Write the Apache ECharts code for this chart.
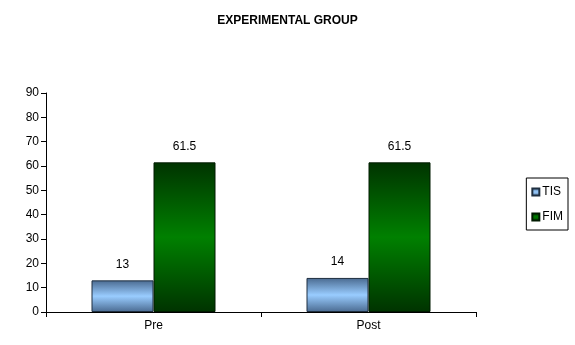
<!DOCTYPE html>
<html>
<head>
<meta charset="utf-8">
<script src="https://cdn.jsdelivr.net/npm/echarts@6/dist/echarts.min.js"></script>
<style>
html,body{margin:0;padding:0;background:#fff;}
#chart{width:575px;height:345px;}
</style>
</head>
<body>
<div id="chart"></div>
<script>
// Chart data
var categories = ['Pre', 'Post'];
var tisValues = [13, 14];
var fimValues = [61.5, 61.5];
var seriesNames = ['TIS', 'FIM'];
var yTicks = [0, 10, 20, 30, 40, 50, 60, 70, 80, 90];

function vGrad(edge, mid) {
  return new echarts.graphic.LinearGradient(0, 0, 0, 1, [
    { offset: 0, color: edge },
    { offset: 0.5, color: mid },
    { offset: 1, color: edge }
  ]);
}

var chart = echarts.init(document.getElementById('chart'));
var font = 'Arial, "Liberation Sans", sans-serif';

chart.setOption({
  animation: false,
  textStyle: { fontFamily: font },
  title: {
    text: 'EXPERIMENTAL GROUP',
    left: 'center',
    top: 10,
    textStyle: { fontSize: 12, fontWeight: 'bold', color: '#000', fontFamily: font }
  },
  legend: {
    data: seriesNames,
    orient: 'vertical',
    right: 7,
    top: 178,
    itemWidth: 7,
    itemHeight: 7,
    itemGap: 13,
    padding: [8, 5, 7, 5],
    borderColor: '#000',
    borderWidth: 1,
    icon: 'rect',
    textStyle: { fontSize: 12, color: '#000', fontFamily: font, padding: [0, 0, 0, -2] }
  },
  grid: { left: 46, top: 93, right: 99, bottom: 33 },
  xAxis: {
    type: 'category',
    data: categories,
    axisLine: { lineStyle: { color: '#000', width: 1 } },
    axisTick: { show: true, length: 5, lineStyle: { color: '#000' } },
    axisLabel: { color: '#000', fontSize: 12, margin: 8, fontFamily: font }
  },
  yAxis: {
    type: 'value',
    min: yTicks[0],
    max: yTicks[yTicks.length - 1],
    interval: yTicks[1] - yTicks[0],
    splitLine: { show: false },
    axisLine: { show: true, lineStyle: { color: '#000', width: 1 } },
    axisTick: { show: true, length: 5, lineStyle: { color: '#000' } },
    axisLabel: { color: '#000', fontSize: 12, margin: 7, fontFamily: font }
  },
  series: [
    {
      name: seriesNames[0],
      type: 'bar',
      data: tisValues,
      barWidth: 62,
      barGap: '0%',
      itemStyle: {
        color: vGrad('#4a6a90', '#99ccff'),
        borderColor: '#1f2f40',
        borderWidth: 1
      },
      label: { show: true, position: 'top', distance: 10, color: '#000', fontSize: 12, fontFamily: font }
    },
    {
      name: seriesNames[1],
      type: 'bar',
      data: fimValues,
      barWidth: 62,
      itemStyle: {
        color: vGrad('#003300', '#008000'),
        borderColor: '#001a00',
        borderWidth: 1
      },
      label: { show: true, position: 'top', distance: 10, color: '#000', fontSize: 12, fontFamily: font }
    }
  ]
});
</script>
</body>
</html>
